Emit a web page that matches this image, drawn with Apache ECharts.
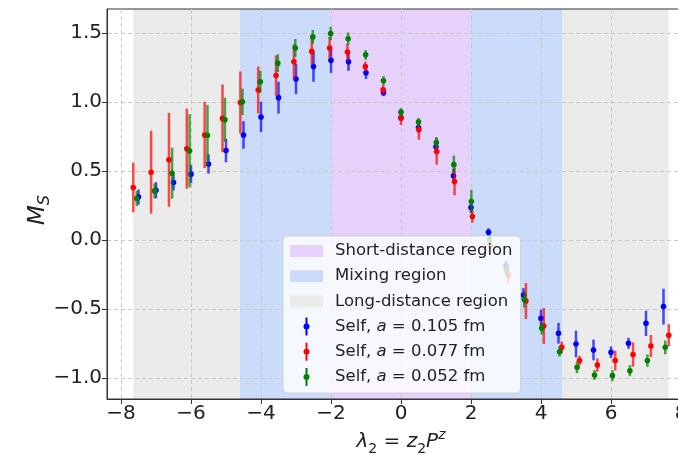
<!DOCTYPE html>
<html><head><meta charset="utf-8">
<script src="https://cdn.jsdelivr.net/npm/echarts@6/dist/echarts.min.js"></script>
<style>html,body{margin:0;padding:0;background:#fff}#c{width:678px;height:455px}</style>
</head><body><div id="c"></div>
<script>
const xTicks = [-8, -6, -4, -2, 0, 2, 4, 6, 8];
const yTicks = [-1.0, -0.5, 0.0, 0.5, 1.0, 1.5];
const shortRegion = [[-2, 2]];
const mixingRegion = [[-4.6, -2], [2, 4.6]];
const longRegion = [[-7.65, -4.6], [4.6, 7.65]];

const blueX = [-7.5,-7.0,-6.5,-6.0,-5.5,-5.0,-4.5,-4.0,-3.5,-3.0,-2.5,-2.0,-1.5,-1.0,-0.5,0,0.5,1.0,1.5,2.0,2.5,3.0,3.5,4.0,4.5,5.0,5.5,6.0,6.5,7.0,7.5];
const blueY = [0.31,0.36,0.415,0.476,0.55,0.647,0.76,0.89,1.03,1.165,1.255,1.30,1.29,1.21,1.065,0.885,0.814,0.674,0.464,0.234,0.055,-0.19,-0.40,-0.567,-0.676,-0.754,-0.797,-0.814,-0.749,-0.604,-0.483];
const blueErr = [0.055,0.058,0.057,0.065,0.07,0.085,0.10,0.11,0.115,0.11,0.11,0.09,0.065,0.045,0.02,0.02,0.03,0.04,0.05,0.04,0.03,0.04,0.05,0.063,0.075,0.097,0.075,0.042,0.04,0.092,0.13];

const redX = [-7.65,-7.14,-6.63,-6.12,-5.61,-5.10,-4.59,-4.08,-3.57,-3.06,-2.55,-2.04,-1.53,-1.02,-0.51,0,0.51,1.02,1.53,2.04,2.55,3.06,3.57,4.08,4.59,5.10,5.61,6.12,6.63,7.14,7.65];
const redY = [0.38,0.49,0.58,0.66,0.76,0.88,0.995,1.085,1.19,1.29,1.365,1.39,1.36,1.255,1.087,0.882,0.797,0.64,0.423,0.17,-0.04,-0.254,-0.442,-0.623,-0.778,-0.874,-0.906,-0.874,-0.83,-0.768,-0.69];
const redErr = [0.18,0.30,0.34,0.29,0.24,0.245,0.225,0.17,0.145,0.127,0.097,0.08,0.06,0.036,0.033,0.05,0.072,0.095,0.10,0.045,0.04,0.065,0.13,0.13,0.042,0.035,0.048,0.072,0.088,0.08,0.08];

const greenX = [-7.55,-7.04,-6.54,-6.04,-5.53,-5.03,-4.53,-4.02,-3.52,-3.02,-2.52,-2.01,-1.51,-1.01,-0.50,0,0.50,1.01,1.51,2.01,2.52,3.02,3.52,4.02,4.53,5.03,5.53,6.04,6.54,7.04,7.55];
const greenY = [0.30,0.355,0.483,0.645,0.758,0.87,1.0,1.145,1.28,1.39,1.47,1.495,1.457,1.34,1.152,0.925,0.853,0.705,0.545,0.278,0.0,-0.22,-0.43,-0.64,-0.81,-0.923,-0.978,-0.983,-0.947,-0.874,-0.778];
const greenErr = [0.055,0.055,0.185,0.265,0.22,0.16,0.095,0.08,0.065,0.065,0.05,0.048,0.045,0.035,0.034,0.03,0.03,0.04,0.065,0.085,0.04,0.04,0.06,0.045,0.035,0.042,0.036,0.04,0.04,0.045,0.05];

const FONT = 'DejaVu Sans';
const C_SHORT = '#e5d1f9', C_MIX = '#cbdcfa', C_LONG = '#ebebeb';
const C_BLUE = '#0000ff', C_RED = '#ff0000', C_GREEN = '#008000';

function zip(xs, ys, es) { return xs.map((x, i) => [x, ys[i], es[i]]); }

function bandSeries(name, ranges, color) {
  return {
    type: 'custom', name: name, z: -1, silent: true,
    itemStyle: { color: color },
    data: ranges,
    encode: { x: [0, 1] },
    renderItem: function (params, api) {
      const cs = params.coordSys;
      const p0 = api.coord([api.value(0), 0]);
      const p1 = api.coord([api.value(1), 0]);
      return { type: 'rect', shape: { x: p0[0], y: cs.y, width: p1[0] - p0[0], height: cs.height },
               style: { fill: color } };
    }
  };
}
function errSeries(name, data, color) {
  return {
    type: 'custom', name: name, z: 3,
    itemStyle: { color: color },
    data: data,
    encode: { x: 0, y: 1 },
    renderItem: function (params, api) {
      const x = api.value(0), y = api.value(1), e = api.value(2);
      const t = api.coord([x, y + e]), b = api.coord([x, y - e]), c = api.coord([x, y]);
      return { type: 'group', children: [
        { type: 'line', shape: { x1: t[0], y1: t[1], x2: b[0], y2: b[1] }, style: { stroke: color, lineWidth: 2.5, opacity: 0.7 } },
        { type: 'circle', shape: { cx: c[0], cy: c[1], r: 2.8 }, style: { fill: color } }
      ] };
    }
  };
}

const rectIcon = 'path://M0,0 M33,18 M0,3 L33,3 L33,15 L0,15 Z';
const ebIcon = 'path://M0,0 M33,18 M15.5,0 L17.5,0 L17.5,18 L15.5,18 Z M13.5,9 A3,3 0 1 1 19.5,9 A3,3 0 1 1 13.5,9 Z';

const nameBlue = 'Self, a = 0.105 fm', nameRed = 'Self, a = 0.077 fm', nameGreen = 'Self, a = 0.052 fm';

const chart = echarts.init(document.getElementById('c'), null, { renderer: 'canvas' });
chart.setOption({
  animation: false,
  backgroundColor: '#fff',
  grid: { left: 107, top: 9, right: -17, bottom: 56, show: true, borderColor: '#333', borderWidth: 1,
          backgroundColor: 'transparent', containLabel: false, outerBoundsMode: 'none' },
  xAxis: {
    type: 'value', min: -8.4, max: 8.4,
    axisLine: { show: true, onZero: false, lineStyle: { color: '#333', width: 1 } },
    axisTick: { show: true, length: 5, customValues: xTicks, lineStyle: { color: '#333' } },
    axisLabel: { customValues: xTicks, fontFamily: FONT, fontSize: 20, color: '#222', margin: 5,
      formatter: v => String(v).replace('-', '\u2212') },
    splitLine: { show: true, lineStyle: { color: '#c8c8c8', type: [4, 3], width: 1 } },
    name: '{i|λ}{s|2}{t| = }{i|z}{s|2}{i|P}{u|z}',
    nameLocation: 'middle', nameGap: 29, nameMoveOverlap: false,
    nameTextStyle: { rich: {
      i: { fontFamily: FONT, fontStyle: 'italic', fontSize: 20, color: '#222', lineHeight: 28 },
      t: { fontFamily: FONT, fontSize: 20, color: '#222', lineHeight: 28 },
      s: { fontFamily: FONT, fontSize: 14, color: '#222', lineHeight: 16, verticalAlign: 'bottom' },
      u: { fontFamily: FONT, fontStyle: 'italic', fontSize: 14, color: '#222', lineHeight: 16, verticalAlign: 'top' }
    } }
  },
  yAxis: {
    type: 'value', min: -1.152, max: 1.672,
    axisLine: { show: true, onZero: false, lineStyle: { color: '#333', width: 1 } },
    axisTick: { show: true, length: 5, customValues: yTicks, lineStyle: { color: '#333' } },
    axisLabel: { customValues: yTicks, fontFamily: FONT, fontSize: 20, color: '#222', margin: 5,
      formatter: v => v.toFixed(1).replace('-', '\u2212') },
    splitLine: { show: true, lineStyle: { color: '#c8c8c8', type: [4, 3], width: 1 } },
    name: '{i|M}{s|S}{p| }',
    nameLocation: 'middle', nameGap: 54, nameRotate: 90, nameMoveOverlap: false,
    nameTextStyle: { rich: {
      i: { fontFamily: FONT, fontStyle: 'italic', fontSize: 23, color: '#222', lineHeight: 30 },
      s: { fontFamily: FONT, fontStyle: 'italic', fontSize: 16, color: '#222', lineHeight: 18, verticalAlign: 'bottom' },
      p: { width: 12, fontSize: 16, lineHeight: 18 }
    } }
  },
  legend: {
    orient: 'vertical', left: 283, top: 236,
    padding: [6, 8, 7, 7], itemGap: 7.2, itemWidth: 33, itemHeight: 18,
    backgroundColor: 'rgba(255,255,255,0.8)', borderColor: 'rgba(204,204,204,0.8)', borderWidth: 1, borderRadius: 4,
    selectedMode: false,
    itemStyle: { borderWidth: 0 },
    data: [
      { name: 'Short-distance region', icon: rectIcon, itemStyle: { color: C_SHORT } },
      { name: 'Mixing region', icon: rectIcon, itemStyle: { color: C_MIX } },
      { name: 'Long-distance region', icon: rectIcon, itemStyle: { color: C_LONG } },
      { name: nameBlue, icon: ebIcon, itemStyle: { color: C_BLUE } },
      { name: nameRed, icon: ebIcon, itemStyle: { color: C_RED } },
      { name: nameGreen, icon: ebIcon, itemStyle: { color: C_GREEN } }
    ],
    formatter: function (name) {
      if (name.indexOf('Self') === 0) {
        const val = name.split('a = ')[1];
        return '{g| }{t|Self, }{i|a}{t| = ' + val + '}';
      }
      return '{g| }{t|' + name + '}';
    },
    textStyle: { fontFamily: FONT, fontSize: 16.5, color: '#222', rich: {
      g: { width: 7, fontSize: 16.5, lineHeight: 20 },
      t: { fontFamily: FONT, fontSize: 16.5, color: '#222', lineHeight: 20 },
      i: { fontFamily: FONT, fontStyle: 'italic', fontSize: 16.5, color: '#222', lineHeight: 20 }
    } }
  },
  series: [
    bandSeries('Long-distance region', longRegion, C_LONG),
    bandSeries('Mixing region', mixingRegion, C_MIX),
    bandSeries('Short-distance region', shortRegion, C_SHORT),
    errSeries(nameBlue, zip(blueX, blueY, blueErr), C_BLUE),
    errSeries(nameRed, zip(redX, redY, redErr), C_RED),
    errSeries(nameGreen, zip(greenX, greenY, greenErr), C_GREEN)
  ]
});
</script>
</body></html>
